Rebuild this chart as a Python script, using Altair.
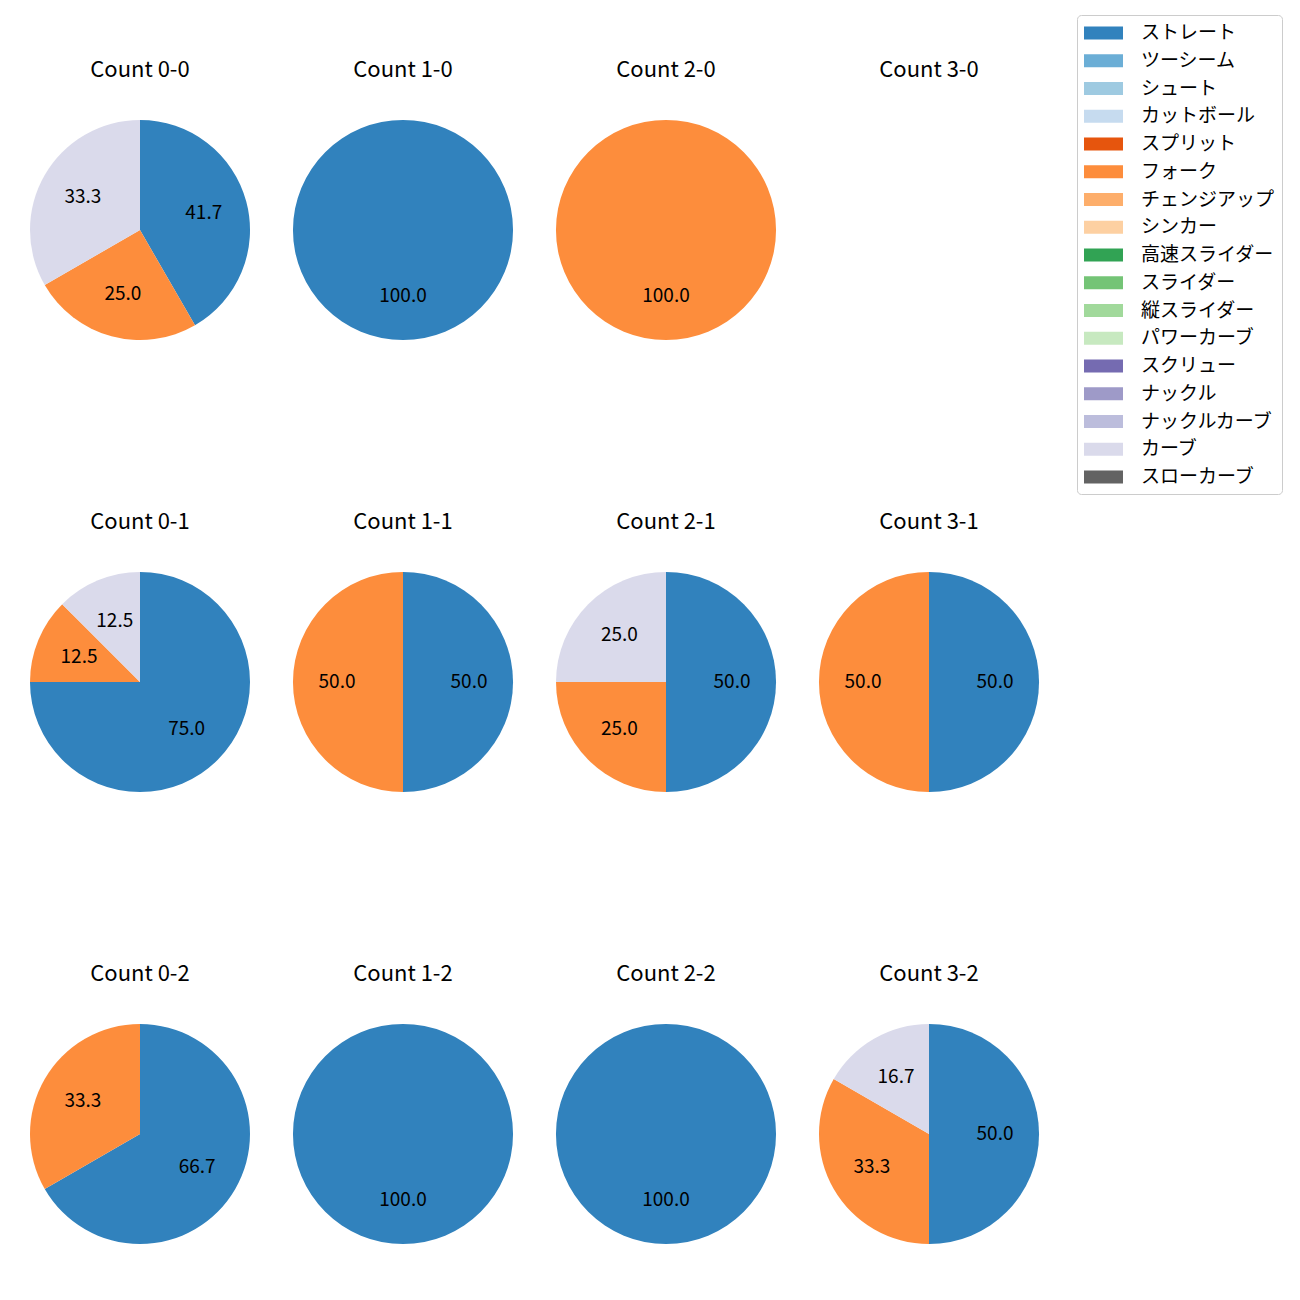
import altair as alt
import pandas as pd

pitch_types = ["ストレート", "ツーシーム", "シュート", "カットボール", "スプリット", "フォーク",
               "チェンジアップ", "シンカー", "高速スライダー", "スライダー", "縦スライダー",
               "パワーカーブ", "スクリュー", "ナックル", "ナックルカーブ", "カーブ", "スローカーブ"]
colors = ["#3182bd", "#6baed6", "#9ecae1", "#c6dbef", "#e6550d", "#fd8d3c", "#fdae6b",
          "#fdd0a2", "#31a354", "#74c476", "#a1d99b", "#c7e9c0", "#756bb1", "#9e9ac8",
          "#bcbddc", "#dadaeb", "#636363"]

count_labels = ["0-0", "1-0", "2-0", "3-0",
                "0-1", "1-1", "2-1", "3-1",
                "0-2", "1-2", "2-2", "3-2"]
straight = [5, 1, 0, 0, 6, 1, 2, 1, 2, 1, 1, 3]
fork = [3, 0, 1, 0, 1, 1, 1, 1, 1, 0, 0, 2]
curve = [4, 0, 0, 0, 1, 0, 1, 0, 0, 0, 0, 1]

rows = []
for i, c in enumerate(count_labels):
    total = straight[i] + fork[i] + curve[i]
    for name, vals in (("ストレート", straight), ("フォーク", fork), ("カーブ", curve)):
        if vals[i] > 0:
            rows.append({"cnt": c, "pitch": name, "idx": pitch_types.index(name),
                         "n": vals[i], "pct": 100.0 * vals[i] / total})
df = pd.DataFrame(rows)

FONT = "Noto Sans CJK JP"

color_enc = alt.Color(
    "pitch:N",
    scale=alt.Scale(domain=pitch_types, range=colors),
    legend=alt.Legend(title=None),
)


def pie(c):
    base = alt.Chart(df).transform_filter(alt.datum.cnt == c)
    arc = base.mark_arc(radius=110).encode(
        theta=alt.Theta("n:Q", stack=True),
        color=color_enc,
        order=alt.Order("idx:Q"),
    )
    txt = base.mark_text(radius=66, fontSize=19, color="black", font=FONT).encode(
        theta=alt.Theta("n:Q", stack=True),
        order=alt.Order("idx:Q"),
        text=alt.Text("pct:Q", format=".1f"),
    )
    return alt.layer(arc, txt).properties(width=220, height=220, title=f"Count {c}")


grid_rows = []
for r in range(3):
    grid_rows.append(alt.hconcat(*[pie(count_labels[r * 4 + k]) for k in range(4)], spacing=43))

chart = alt.vconcat(*grid_rows, spacing=171).properties(
    padding={"left": 22, "top": 6, "right": 5, "bottom": 5}
).configure_view(stroke=None).configure_title(
    font=FONT, fontSize=22, fontWeight="normal", color="black", offset=38, anchor="middle"
).configure_legend(
    orient="none", legendX=1047, legendY=-105,
    symbolType="M-1,-0.6L2.545,-0.6L2.545,0.6L-1,0.6Z", symbolSize=484, symbolStrokeWidth=0,
    labelFont=FONT, labelFontSize=19, labelColor="black", labelOffset=35,
    strokeColor="#cccccc", cornerRadius=4, padding=7, rowPadding=6.75, fillColor="white",
    labelLimit=300,
)

chart.save("out.html", embed_options={"renderer": "svg", "actions": False})
